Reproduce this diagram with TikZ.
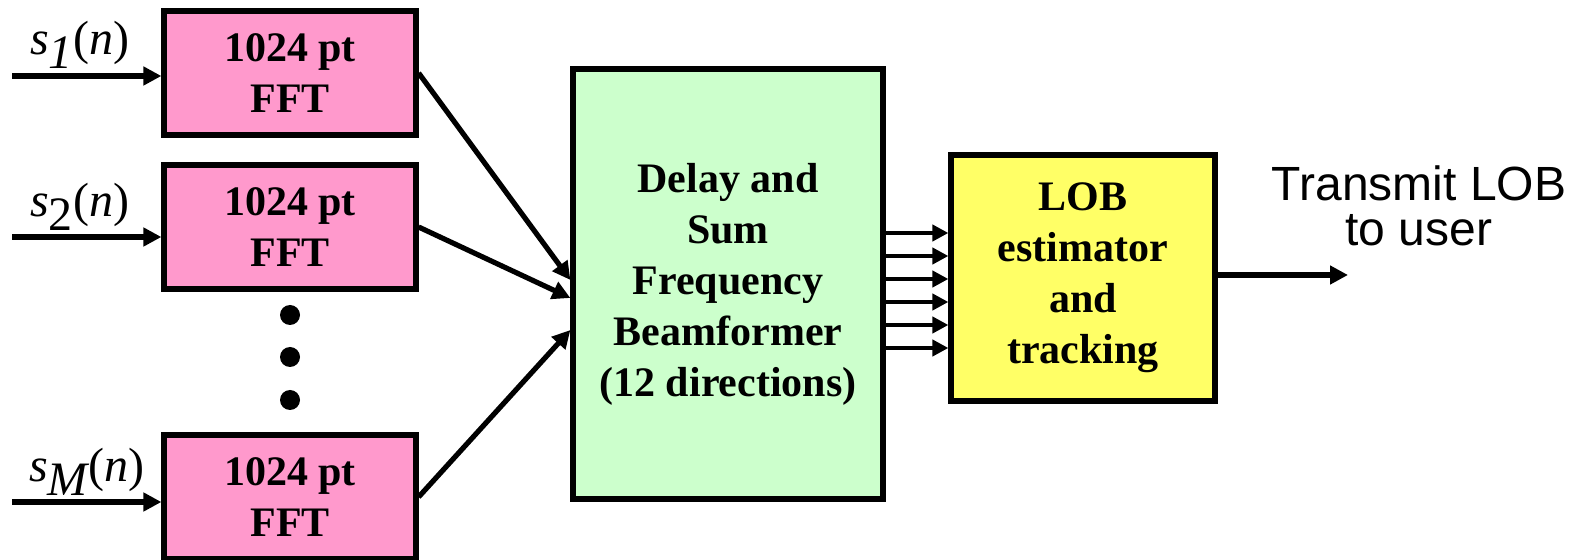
\documentclass[tikz,border=0pt]{standalone}
\usepackage{fontspec}
\setmainfont{Liberation Serif}
\setsansfont{Liberation Sans}
\usetikzlibrary{arrows.meta,positioning}
\definecolor{fftpink}{HTML}{FF99CC}
\definecolor{beamgreen}{HTML}{CCFFCC}
\definecolor{lobyellow}{HTML}{FFFF66}

\begin{document}
\begin{tikzpicture}[x=0.5pt,y=-0.5pt,->,>={Triangle[length=9pt,width=9pt]},
  line width=2.6pt,node distance=77pt,
  block node/.style={rectangle,draw,align=center,inner sep=0pt,
  font=\fontsize{21}{25.5}\selectfont\bfseries},
  fft node/.style={block node,fill=fftpink,minimum width=126pt,
  minimum height=62pt},
  dot node/.style={circle,fill,inner sep=0pt,minimum size=10pt},
  sig label/.style={font=\fontsize{24}{28}\selectfont,inner sep=0pt}]

  \useasboundingbox (0,0) rectangle (1578,560);

  % FFT column
  \node[fft node] (fft1) at (290,73) {1024 pt\\FFT};
  \node[fft node] (fft2) [below of=fft1] {1024 pt\\FFT};
  \node[fft node] (fftM) [below of=fft2,node distance=135pt] {1024 pt\\FFT};
  \node[dot node] (dot1) at (290,315) {};
  \node[dot node] (dot2) at (290,357) {};
  \node[dot node] (dot3) at (290,400) {};

  \node[block node,fill=beamgreen,minimum width=155pt,minimum height=215pt]
    (beam) at (728,284) {Delay and\\Sum\\Frequency\\Beamformer\\(12 directions)};
  \node[block node,fill=lobyellow,minimum width=132pt,minimum height=123pt]
    (lob) at (1083,278) {LOB\\estimator\\and\\tracking};

  % inputs
  \coordinate (in1) at (12,76);
  \coordinate (in2) at (12,237);
  \coordinate (inM) at (12,502);
  \node[sig label] (s1) at (80,45) {\textit{s}$_{\textit{1}}$(\textit{n})};
  \node[sig label] (s2) at (80,207) {\textit{s}$_{\textrm{2}}$(\textit{n})};
  \node[sig label] (sM) at (87,472) {\textit{s}$_{\textit{M}}$(\textit{n})};

  \coordinate (out) at (1348,275);
  \node[font=\sffamily\fontsize{24}{22.5}\selectfont,align=center,inner sep=0pt]
    (tx) at (1419,206) {Transmit LOB\\to user};

  \path
    (in1) edge (in1 -| fft1.west)
    (in2) edge (in2 -| fft2.west)
    (inM) edge (inM -| fftM.west)
    (fft1.east) edge (beam.west |- 0,280)
    (fft2.east) edge (beam.west |- 0,298)
    (fftM.east) edge (beam.west |- 0,330)
    (lob.east |- out) edge (out);

  % beam outputs, one per direction group
  \foreach \k in {0,...,5}
    \draw[line width=2.1pt,-{Triangle[length=8pt,width=8pt]}]
      (beam.east |- 0,233+23*\k) -- (lob.west |- 0,233+23*\k);
\end{tikzpicture}
\end{document}
